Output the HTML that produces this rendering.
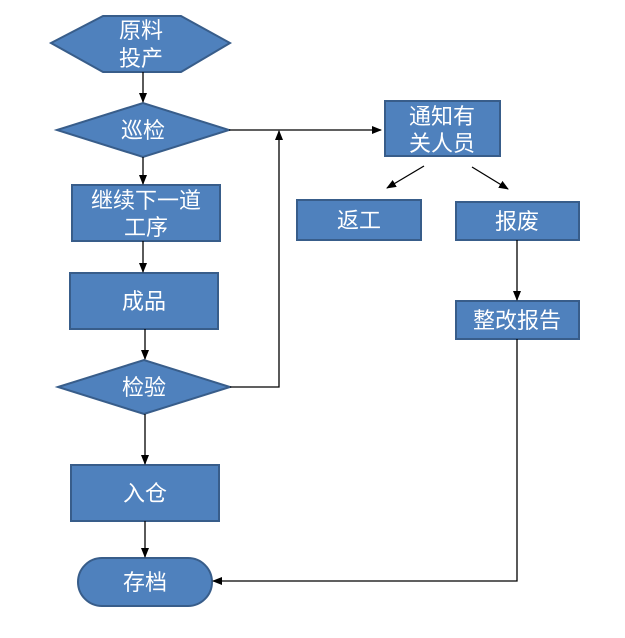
<!DOCTYPE html>
<html><head><meta charset="utf-8"><style>
html,body{margin:0;padding:0;background:#fff}
svg text{font-family:"Liberation Sans","Noto Sans CJK SC",sans-serif;fill:#fff;font-size:22px;text-anchor:middle}
</style></head><body>
<svg width="625" height="633" viewBox="0 0 625 633" xmlns="http://www.w3.org/2000/svg">
<defs><marker id="a" markerWidth="10" markerHeight="10" refX="9" refY="5" orient="auto" markerUnits="userSpaceOnUse"><path d="M0,1 L10,5 L0,9 z" fill="#000"/></marker></defs>
<g fill="#4F81BD" stroke="#385D8A" stroke-width="2">
<polygon points="51,43 103,16 181,16 230,43 181,72 103,72"/>
<polygon points="57,130 143,103 229,130 143,157"/>
<rect x="72" y="185" width="148" height="56"/>
<rect x="70" y="273" width="148" height="56"/>
<polygon points="58,387 144,360 230,387 144,414"/>
<rect x="71" y="465" width="148" height="56"/>
<rect x="78" y="558" width="134" height="48" rx="24"/>
<rect x="385" y="101" width="115" height="55"/>
<rect x="297" y="200" width="124" height="40"/>
<rect x="456" y="202" width="123" height="38"/>
<rect x="456" y="301" width="123" height="38"/>
</g>
<g stroke="#000" stroke-width="1.3" fill="none">
<line x1="143" y1="72" x2="143" y2="102" marker-end="url(#a)"/>
<line x1="143" y1="157" x2="143" y2="184" marker-end="url(#a)"/>
<line x1="143" y1="241" x2="143" y2="272" marker-end="url(#a)"/>
<line x1="145" y1="329" x2="145" y2="359" marker-end="url(#a)"/>
<line x1="145" y1="414" x2="145" y2="464" marker-end="url(#a)"/>
<line x1="145" y1="521" x2="145" y2="557" marker-end="url(#a)"/>
<line x1="229" y1="130" x2="381" y2="130" marker-end="url(#a)"/>
<polyline points="230,387 279,387 279,131" marker-end="url(#a)"/>
<line x1="424" y1="166" x2="387" y2="188" marker-end="url(#a)"/>
<line x1="472" y1="167" x2="508" y2="189" marker-end="url(#a)"/>
<line x1="517" y1="240" x2="517" y2="300" marker-end="url(#a)"/>
<polyline points="517,339 517,581 213,581" marker-end="url(#a)"/>
</g>
<text x="141" y="38">原料</text>
<text x="141" y="66">投产</text>
<text x="143" y="138">巡检</text>
<text x="146" y="208">继续下一道</text>
<text x="146" y="235">工序</text>
<text x="144" y="309">成品</text>
<text x="144" y="395">检验</text>
<text x="145" y="501">入仓</text>
<text x="145" y="590">存档</text>
<text x="442" y="124">通知有</text>
<text x="442" y="151">关人员</text>
<text x="359" y="228">返工</text>
<text x="517" y="229">报废</text>
<text x="517" y="328">整改报告</text>
</svg>
</body></html>
